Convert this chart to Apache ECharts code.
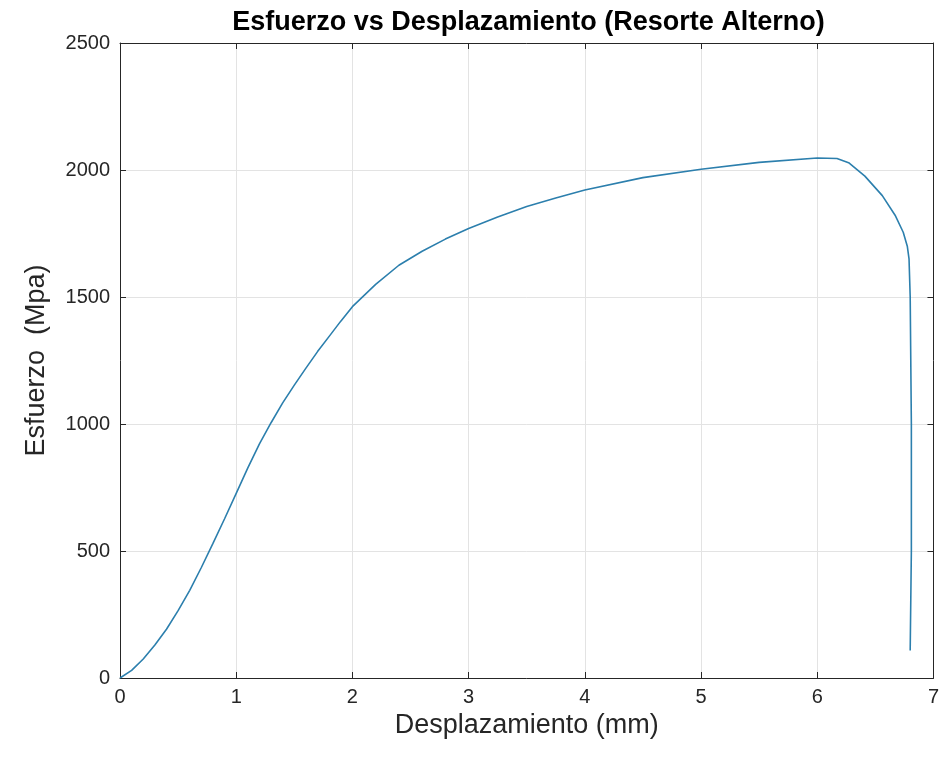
<!DOCTYPE html>
<html>
<head>
<meta charset="utf-8">
<script src="https://cdn.jsdelivr.net/npm/echarts@6/dist/echarts.min.js"></script>
<style>
html,body{margin:0;padding:0;background:#fff;}
#chart{width:942px;height:760px;}
</style>
</head>
<body>
<div id="chart"></div>
<script>
// Data
var displacement = [0, 0.1, 0.2, 0.3, 0.4, 0.5, 0.6, 0.7, 0.8, 0.9, 1.0, 1.1, 1.2, 1.3, 1.4, 1.5, 1.6, 1.7, 1.8, 1.9, 2.0, 2.2, 2.4, 2.6, 2.8, 3.0, 3.25, 3.5, 3.75, 4.0, 4.5, 5.0, 5.5, 6.0, 6.17, 6.27, 6.41, 6.56, 6.67, 6.74, 6.775, 6.79, 6.80, 6.81, 6.81, 6.80];
var stress = [0, 30, 75, 130, 192, 265, 345, 435, 530, 627, 727, 827, 922, 1005, 1083, 1153, 1220, 1285, 1345, 1405, 1462, 1550, 1625, 1680, 1728, 1770, 1815, 1856, 1890, 1921, 1970, 2003, 2030, 2047, 2045, 2029, 1976, 1899, 1822, 1755, 1700, 1650, 1500, 1000, 500, 108];
var xTicks = [0, 7, 1];      // min, max, interval
var yTicks = [0, 2500, 500]; // min, max, interval

var titleText = 'Esfuerzo vs Desplazamiento (Resorte Alterno)';
var xName = 'Desplazamiento (mm)';
var yName = 'Esfuerzo  (Mpa)';

var pts = displacement.map(function (x, i) { return [x, stress[i]]; });

var FONT = '"Liberation Sans", Arial, Helvetica, sans-serif';
var AX = '#262626';

var chart = echarts.init(document.getElementById('chart'));
var gridL = 120, gridR = 5, gridT = 43, gridB = 82;
var plotCenterX = gridL + (942 - gridL - gridR) / 2;

function baseAxis(pos, range, withLabel) {
  return {
    type: 'value',
    position: pos,
    min: range[0], max: range[1], interval: range[2],
    axisLine: { show: true, onZero: false, lineStyle: { color: AX, width: 1 } },
    axisTick: { show: true, inside: true, length: 6, lineStyle: { color: AX } },
    axisLabel: { show: withLabel, color: AX, fontSize: 20, fontFamily: FONT, margin: 9,
                 formatter: function (v) { return String(v); } },
    splitLine: { show: withLabel, lineStyle: { color: '#e3e3e3', width: 1 } }
  };
}

var xa0 = baseAxis('bottom', xTicks, true);
xa0.name = xName; xa0.nameLocation = 'middle'; xa0.nameGap = 24;
xa0.nameTextStyle = { color: AX, fontSize: 27, fontFamily: FONT };
var xa1 = baseAxis('top', xTicks, false);

var ya0 = baseAxis('left', yTicks, true);
ya0.name = yName; ya0.nameLocation = 'middle'; ya0.nameGap = 70; ya0.nameRotate = 90;
ya0.nameTextStyle = { color: AX, fontSize: 27, fontFamily: FONT };
ya0.axisLabel.margin = 10;
var ya1 = baseAxis('right', yTicks, false);

chart.setOption({
  animation: false,
  backgroundColor: '#ffffff',
  grid: { left: gridL, right: gridR, top: gridT, bottom: gridB, containLabel: false },
  xAxis: [xa0, xa1],
  yAxis: [ya0, ya1],
  graphic: [{
    type: 'text',
    x: plotCenterX, y: 9,
    style: { text: titleText, fill: '#000', font: 'bold 27px ' + FONT, textAlign: 'center', textVerticalAlign: 'top' }
  }],
  series: [{
    type: 'line',
    xAxisIndex: 0, yAxisIndex: 0,
    data: pts,
    showSymbol: false,
    smooth: false,
    lineStyle: { color: '#2c7fad', width: 1.6 },
    itemStyle: { color: '#2c7fad' }
  }]
});
</script>
</body>
</html>
